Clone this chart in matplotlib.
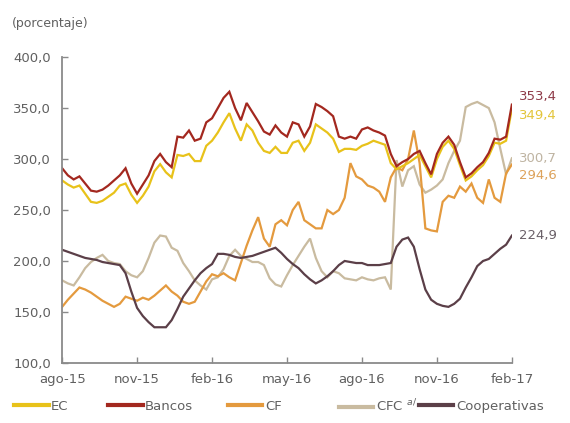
import numpy as np
import matplotlib
matplotlib.use("Agg")
from matplotlib import pyplot as plt
from matplotlib.lines import Line2D

# weekly series, ago-15 .. feb-17 (79 points)
tick_labels = ["ago-15", "nov-15", "feb-16", "may-16", "ago-16", "nov-16", "feb-17"]

bancos = [291, 284, 280, 283, 276, 269, 268, 270, 274, 279, 284, 291, 276, 266, 275, 284,
          298, 305, 297, 292, 322, 321, 328, 318, 320, 336, 340, 350, 360, 366, 350, 338,
          355, 346, 337, 327, 324, 333, 326, 322, 336, 334, 322, 332, 354, 351, 347, 342,
          322, 320, 322, 320, 329, 331, 328, 326, 323, 305, 293, 297, 300, 305, 308, 296,
          285, 305, 316, 322, 314, 297, 282, 286, 292, 297, 306, 320, 319, 322, 353.4]

ec = [279, 275, 272, 274, 266, 258, 257, 259, 263, 267, 274, 276, 265, 257, 264, 273,
      288, 295, 287, 282, 304, 303, 305, 298, 298, 313, 318, 326, 336, 345, 330, 318,
      334, 328, 316, 308, 306, 312, 306, 306, 316, 318, 308, 316, 334, 330, 326, 320,
      307, 310, 310, 309, 313, 315, 318, 316, 314, 296, 290, 293, 296, 300, 304, 293,
      282, 300, 312, 318, 310, 294, 279, 283, 289, 294, 303, 316, 315, 318, 349.4]

cf = [155, 162, 168, 174, 172, 169, 165, 161, 158, 155, 158, 165, 163, 161, 164, 162,
      166, 171, 176, 170, 166, 160, 158, 160, 170, 180, 187, 185, 188, 184, 181, 198,
      215, 230, 243, 222, 214, 236, 240, 235, 250, 258, 240, 236, 232, 232, 250, 246,
      250, 262, 296, 283, 280, 274, 272, 268, 258, 282, 292, 289, 300, 328, 296, 232,
      230, 229, 258, 264, 262, 273, 268, 276, 262, 257, 280, 262, 258, 286, 294.6]

cfc = [181, 178, 176, 184, 193, 199, 203, 206, 200, 198, 197, 190, 186, 184, 190, 203,
       218, 225, 224, 213, 210, 198, 190, 181, 176, 172, 182, 184, 192, 205, 211, 205,
       202, 199, 199, 196, 183, 177, 175, 186, 196, 205, 214, 222, 203, 190, 184, 190,
       188, 183, 182, 181, 184, 182, 181, 183, 184, 172, 299, 273, 289, 293, 275, 267,
       270, 274, 280, 296, 308, 318, 351, 354, 356, 353, 350, 336, 310, 285, 300.7]

coop = [211, 209, 207, 205, 203, 202, 201, 199, 198, 197, 196, 188, 170, 154, 146, 140,
        135, 135, 135, 142, 153, 165, 173, 181, 188, 193, 197, 207, 207, 206, 204, 203,
        204, 205, 207, 209, 211, 213, 208, 202, 197, 193, 187, 182, 178, 181, 185, 190,
        196, 200, 199, 198, 198, 196, 196, 196, 197, 198, 214, 221, 223, 214, 192, 172,
        162, 158, 156, 155, 158, 163, 174, 184, 195, 200, 202, 207, 212, 216, 224.9]

names = ["EC", "Bancos", "CF", "CFC $^{a/}$", "Cooperativas"]
series = [ec, bancos, cf, cfc, coop]
colors = ["#E8C21A", "#A3281F", "#E49A3E", "#C9BBA0", "#5B3F48"]
label_colors = ["#E3C53A", "#8E3A48", "#DDA25A", "#BFB4A2", "#6A6068"]
label_y = [343, 361, 284, 301, 225]   # vertical spot of end labels

plt.rcParams["font.family"] = ["Liberation Sans Narrow", "DejaVu Sans"]

fig = plt.figure(figsize=(5.7, 4.23), dpi=100)
ax = fig.add_axes([0.109, 0.142, 0.789, 0.723])

x = np.arange(len(bancos))
order = [3, 2, 4, 0, 1]  # drawing order
for k in order:
    ax.plot(x, series[k], color=colors[k], lw=1.6, solid_joinstyle="miter")

for k in range(5):
    v = series[k][-1]
    ax.text(len(x) - 1 + 1.3, label_y[k], f"{v:.1f}".replace(".", ","),
            color=label_colors[k], fontsize=9.5, va="center", ha="left", clip_on=False)

ax.set_xlim(0, len(x) - 1)
ax.set_ylim(100, 400)
ax.set_xticks(np.arange(0, len(x), 13))
ax.set_xticklabels(tick_labels)
yt = np.arange(100, 401, 50)
ax.set_yticks(yt)
ax.set_yticklabels([f"{v:.1f}".replace(".", ",") for v in yt])

for s in ["top", "right"]:
    ax.spines[s].set_visible(False)
for s in ["left", "bottom"]:
    ax.spines[s].set_color("#8a8a8a")
    ax.spines[s].set_linewidth(1.3)
ax.tick_params(direction="in", length=4, width=1, color="#8a8a8a",
               labelsize=9.5, labelcolor="#606060")
ax.tick_params(axis="x", pad=7)
ax.tick_params(axis="y", pad=8)

fig.text(0.02, 0.937, "(porcentaje)", fontsize=9, color="#606060")

# legend, one entry each
leg_x = [0.025, 0.19, 0.40, 0.595, 0.735]
for k in range(5):
    h = Line2D([], [], color=colors[k], lw=3)
    lg = fig.legend([h], [names[k]], loc="center left", bbox_to_anchor=(leg_x[k], 0.04),
                    frameon=False, handlelength=2.6, handletextpad=0.2, borderaxespad=0,
                    borderpad=0, fontsize=9.5, labelcolor="#606060")

plt.savefig("out.png", dpi=100)
